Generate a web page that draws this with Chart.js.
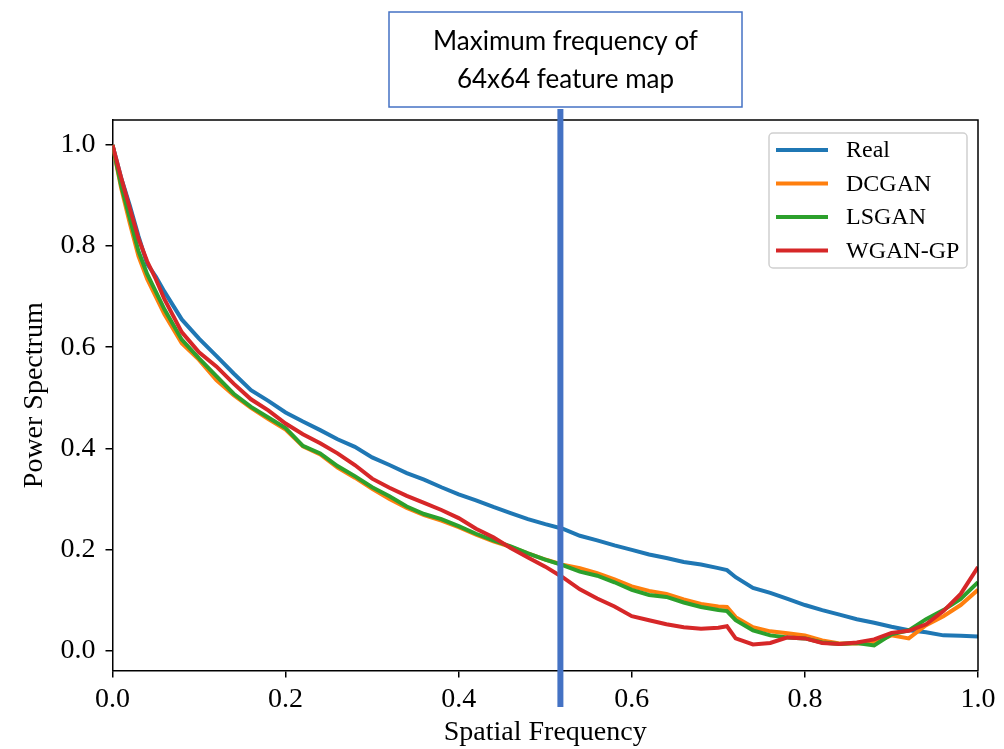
<!DOCTYPE html>
<html lang="en">
<head>
<meta charset="UTF-8">
<title>Power Spectrum</title>
<script src="https://cdn.jsdelivr.net/npm/chart.js"></script>
<style>
  body { margin: 0; background: white; }
  #wrap { width: 1004px; height: 749px; position: relative; }
</style>
</head>
<body>
<div id="wrap"><canvas id="spectrumChart"></canvas></div>
<script>
// spatial frequency samples (x) and the four power spectra
const freq = [0, 0.01, 0.02, 0.03, 0.04, 0.05, 0.06, 0.08, 0.10, 0.12, 0.14, 0.16, 0.18, 0.20,
  0.22, 0.24, 0.26, 0.28, 0.30, 0.32, 0.34, 0.36, 0.38, 0.40, 0.42, 0.44, 0.46, 0.48, 0.50,
  0.52, 0.54, 0.56, 0.58, 0.60, 0.62, 0.64, 0.66, 0.68, 0.70, 0.71, 0.72, 0.74, 0.76, 0.78,
  0.80, 0.82, 0.84, 0.86, 0.88, 0.90, 0.92, 0.94, 0.96, 0.98, 1.00];

const real = [1.0, 0.935, 0.88, 0.82, 0.765, 0.74, 0.71, 0.655, 0.617, 0.583, 0.548, 0.515, 0.494, 0.471,
  0.453, 0.436, 0.418, 0.403, 0.382, 0.367, 0.351, 0.338, 0.323, 0.309, 0.297, 0.284, 0.272, 0.260, 0.250,
  0.241, 0.227, 0.218, 0.208, 0.199, 0.190, 0.183, 0.175, 0.170, 0.163, 0.159, 0.145, 0.124, 0.114, 0.102,
  0.090, 0.080, 0.071, 0.062, 0.055, 0.047, 0.040, 0.036, 0.030, 0.029, 0.028];

const dcgan = [1.0, 0.915, 0.845, 0.78, 0.735, 0.70, 0.665, 0.608, 0.575, 0.535, 0.505, 0.480, 0.458, 0.437,
  0.404, 0.388, 0.362, 0.342, 0.320, 0.300, 0.282, 0.268, 0.257, 0.244, 0.229, 0.216, 0.205, 0.192, 0.180,
  0.170, 0.163, 0.153, 0.141, 0.127, 0.118, 0.112, 0.101, 0.092, 0.087, 0.086, 0.066, 0.046, 0.038, 0.034,
  0.030, 0.020, 0.014, 0.014, 0.016, 0.030, 0.024, 0.050, 0.068, 0.090, 0.120];

const lsgan = [1.0, 0.92, 0.855, 0.79, 0.745, 0.71, 0.675, 0.615, 0.578, 0.543, 0.508, 0.482, 0.461, 0.440,
  0.405, 0.390, 0.365, 0.345, 0.323, 0.305, 0.285, 0.270, 0.260, 0.246, 0.231, 0.218, 0.206, 0.192, 0.180,
  0.169, 0.156, 0.148, 0.135, 0.120, 0.110, 0.106, 0.095, 0.086, 0.080, 0.078, 0.060, 0.040, 0.030, 0.026,
  0.024, 0.016, 0.013, 0.015, 0.010, 0.032, 0.040, 0.062, 0.080, 0.102, 0.135];

const wgangp = [1.0, 0.935, 0.875, 0.815, 0.77, 0.735, 0.695, 0.630, 0.590, 0.562, 0.528, 0.497, 0.475, 0.449,
  0.428, 0.410, 0.390, 0.367, 0.340, 0.322, 0.306, 0.292, 0.278, 0.262, 0.241, 0.224, 0.203, 0.184, 0.166,
  0.145, 0.121, 0.103, 0.087, 0.068, 0.060, 0.052, 0.046, 0.043, 0.045, 0.048, 0.024, 0.012, 0.015, 0.026,
  0.024, 0.015, 0.013, 0.016, 0.022, 0.035, 0.039, 0.052, 0.078, 0.112, 0.165];

const seriesNames = ["Real", "DCGAN", "LSGAN", "WGAN-GP"];
const seriesColors = ["#1f77b4", "#ff7f0e", "#2ca02c", "#d62728"];
const xTicks = [0, 0.2, 0.4, 0.6, 0.8, 1.0];
const yTicks = [0, 0.2, 0.4, 0.6, 0.8, 1.0];
const markerFreq = 0.5175;
const noteLines = ["Maximum frequency of", "64x64 feature map"];

const serif = "'Liberation Serif', 'DejaVu Serif', serif";

function toPoints(values) {
    return freq.map((f, i) => ({ x: f, y: values[i] }));
}

const seriesData = [real, dcgan, lsgan, wgangp];
const datasets = seriesNames.map((name, i) => ({
    label: name,
    data: toPoints(seriesData[i]),
    borderColor: seriesColors[i],
    backgroundColor: seriesColors[i],
    borderWidth: 4,
    pointRadius: 0,
    tension: 0,
    fill: false,
    order: seriesNames.length - i   // later series on top, like matplotlib
}));

// frame, legend box and the annotation (blue line + text box)
const extras = {
    id: "extras",
    afterDraw(chart) {
        const ctx = chart.ctx;
        const a = chart.chartArea;
        ctx.save();

        // top and right spines
        ctx.strokeStyle = "#000";
        ctx.lineWidth = 1.5;
        ctx.beginPath();
        ctx.moveTo(a.left, a.top);
        ctx.lineTo(a.right, a.top);
        ctx.lineTo(a.right, a.bottom);
        ctx.stroke();

        // legend
        const lx = 769, ly = 133, lw = 198, lh = 135;
        ctx.fillStyle = "rgba(255,255,255,0.85)";
        ctx.strokeStyle = "#d0d0d0";
        ctx.lineWidth = 1.5;
        ctx.beginPath();
        ctx.roundRect(lx, ly, lw, lh, 4);
        ctx.fill();
        ctx.stroke();
        ctx.font = "24px " + serif;
        ctx.textBaseline = "middle";
        ctx.textAlign = "left";
        chart.data.datasets.forEach((ds, i) => {
            const yy = ly + 17 + i * 33.5;
            ctx.strokeStyle = ds.borderColor;
            ctx.lineWidth = 4;
            ctx.beginPath();
            ctx.moveTo(lx + 7, yy);
            ctx.lineTo(lx + 59, yy);
            ctx.stroke();
            ctx.fillStyle = "#000";
            ctx.fillText(ds.label, lx + 77, yy + 1);
        });

        // vertical marker line
        const mx = chart.scales.x.getPixelForValue(markerFreq);
        ctx.strokeStyle = "#4472c4";
        ctx.lineWidth = 6;
        ctx.beginPath();
        ctx.moveTo(mx, 109);
        ctx.lineTo(mx, 707);
        ctx.stroke();

        // note box
        ctx.fillStyle = "#fff";
        ctx.fillRect(389, 12, 353, 95);
        ctx.strokeStyle = "#4472c4";
        ctx.lineWidth = 1.5;
        ctx.strokeRect(389, 12, 353, 95);
        ctx.fillStyle = "#000";
        ctx.font = "26px Lato, 'Open Sans', sans-serif";
        ctx.textAlign = "center";
        ctx.textBaseline = "alphabetic";
        ctx.fillText(noteLines[0], 565.5, 50);
        ctx.fillText(noteLines[1], 565.5, 88);

        ctx.restore();
    }
};

const tickFont = { family: serif, size: 28 };

new Chart(document.getElementById("spectrumChart"), {
    type: "line",
    data: { datasets: datasets },
    options: {
        responsive: true,
        maintainAspectRatio: false,
        animation: false,
        layout: { padding: { top: 120, right: 26, left: 0, bottom: 0 } },
        plugins: { legend: { display: false }, tooltip: { enabled: false } },
        scales: {
            x: {
                type: "linear",
                min: 0,
                max: 1,
                afterBuildTicks: s => { s.ticks = xTicks.map(v => ({ value: v })); },
                afterFit: s => { s.height = 78.5; },
                ticks: { font: tickFont, color: "#000", padding: 5, maxRotation: 0,
                         callback: v => v.toFixed(1) },
                grid: { drawOnChartArea: false, color: "#000", tickLength: 7, lineWidth: 1.5 },
                border: { color: "#000", width: 1.5 },
                title: { display: true, text: "Spatial Frequency", color: "#000",
                         font: { family: serif, size: 28 }, padding: { top: 0, bottom: 0 } }
            },
            y: {
                min: -0.0395,
                max: 1.0495,
                afterBuildTicks: s => { s.ticks = yTicks.map(v => ({ value: v })); },
                afterFit: s => { s.width = 112.5; },
                ticks: { font: tickFont, color: "#000", padding: 10,
                         callback: v => v.toFixed(1) },
                grid: { drawOnChartArea: false, color: "#000", tickLength: 7, lineWidth: 1.5 },
                border: { color: "#000", width: 1.5 },
                title: { display: true, text: "Power Spectrum", color: "#000",
                         font: { family: serif, size: 28 }, padding: { top: 18, bottom: 0 } }
            }
        }
    },
    plugins: [extras]
});
</script>
</body>
</html>
